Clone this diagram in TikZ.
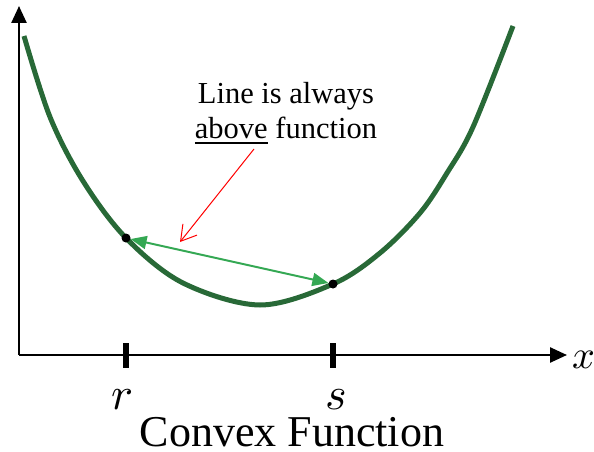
\documentclass[tikz,border=0pt]{standalone}
\usepackage{unicode-math}
\setmainfont{Liberation Serif}
\setmathfont{Latin Modern Math}
\usetikzlibrary{arrows.meta}

\definecolor{curvegreen}{RGB}{40,105,55}
\definecolor{chordgreen}{RGB}{52,168,83}

\tikzset{
    axis/.style={line width=2.5pt, -{Triangle[length=17pt,width=15pt]}},
    tick/.style={line width=6pt},
    dot/.style={circle, fill=black, inner sep=0pt, minimum size=9pt},
}

\begin{document}
\begin{tikzpicture}[x=1pt, y=-1pt]
    \useasboundingbox (0,0) rectangle (594,452);
    % axes
    \coordinate (origin) at (19,355);
    \coordinate (ytop) at (19,6);
    \coordinate (xend) at (567,355);
    \draw[axis] (origin) -- (ytop);
    \draw[axis] (origin) -- (xend);
    \node[anchor=west, inner sep=0pt, font=\fontsize{40}{44}\selectfont] (xlbl) at (572,360) {$x$};
    % ticks r, s
    \coordinate (rtop) at (126,343); \coordinate (rbot) at (126,368);
    \coordinate (stop) at (333,343); \coordinate (sbot) at (333,368);
    \draw[tick] (rtop) -- (rbot);
    \draw[tick] (stop) -- (sbot);
    \node[anchor=base, inner sep=0pt, font=\fontsize{46}{50}\selectfont] (rlbl) at (122,409) {$r$};
    \node[anchor=base, inner sep=0pt, font=\fontsize{46}{50}\selectfont] (slbl) at (336,409) {$s$};
    % convex curve
    \draw[curvegreen, line width=5pt] plot[smooth, tension=0.55] coordinates {
        (24,36) (50,117) (83,181) (126,238) (183,283) (260,305)
        (333,284) (380,253) (420,213) (447,173) (473,127) (513,26)};
    % chord between the two points
    \node[dot] (pr) at (126,238) {};
    \node[dot] (ps) at (333,284) {};
    \draw[chordgreen, line width=2pt, {Triangle[length=16pt,width=13pt]}-{Triangle[length=16pt,width=13pt]}] (pr) -- (ps);
    % label and red pointer
    \node[anchor=north, align=center, inner sep=0pt, font=\fontsize{30.5}{35}\selectfont] (lbl) at (286,82)
        {Line is always\\\underline{above} function};
    \coordinate (redstart) at (254,149);
    \coordinate (redtip) at (180,242);
    \draw[red, line width=1pt, -{Straight Barb[length=15pt,width=18pt]}] (redstart) -- (redtip);
    % title
    \node[anchor=base, inner sep=0pt, font=\fontsize{44}{50}\selectfont] (title) at (292,446) {Convex Function};
\end{tikzpicture}
\end{document}
